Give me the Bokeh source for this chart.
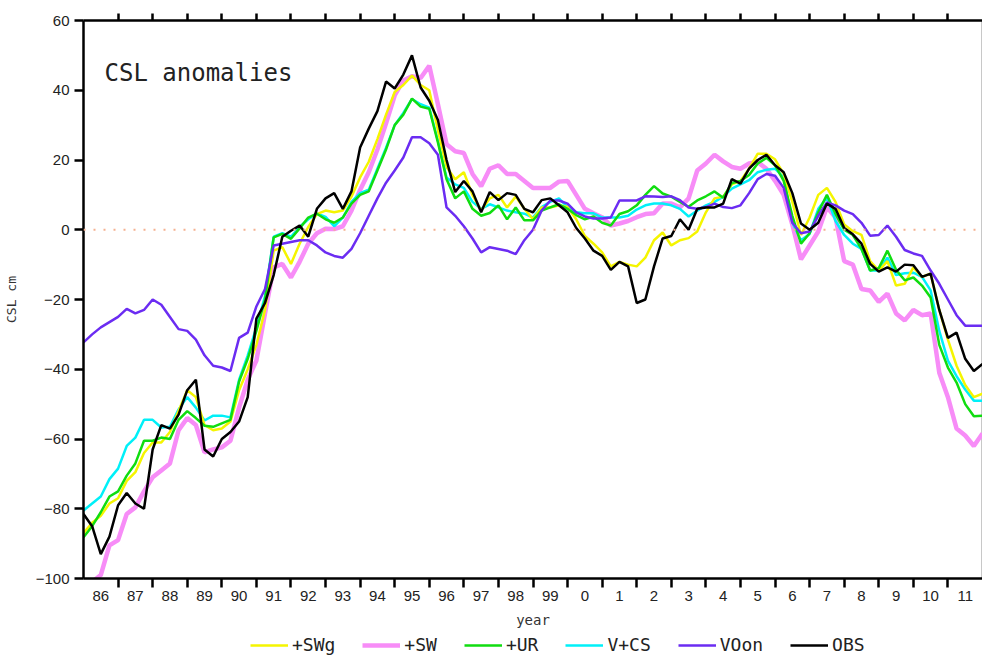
from bokeh.plotting import figure
from bokeh.layouts import column
from bokeh.models import (LinearAxis, FixedTicker, Range1d, Span, Label, Legend,
                          LegendItem, ColumnDataSource)
from bokeh.embed import file_html
from bokeh.resources import INLINE

# quarterly time axis 1986.0 .. 2012.0
years = [1986 + 0.25 * i for i in range(105)]

swg = [-87, -84, -82, -78.5,  -77, -72, -69.5, -64,  -61, -61, -58, -52,
       -46, -48, -56, -57.5,  -57, -55, -46, -40,  -33, -23, -6, -5,
       -9.8, -4, 0.8, 4.5,  5.5, 5, 5.5, 9.5,  15, 19.5, 26, 33,
       39.5, 41.5, 44.2, 41.5,  40, 28.5, 18, 14.5,  16.5, 10, 5.5, 9,
       10, 6.4, 9.5, 6,  3, 6.4, 6.4, 7,  6.5, 3, -1.8, -4,
       -6.5, -10.5, -9.2, -10,  -10.5, -8, -3, -0.8,  -4.5, -3, -2.4, -0.5,
       5, 9, 9.5, 13,  14, 17.5, 21.8, 21.8,  20.2, 16, 8, -1.5,
       3.5, 10, 12, 8,  1.5, -0.4, -1.5, -9,  -11.7, -9, -16, -15.5,
       -10.8, -13.5, -12.6, -23,  -31.5, -39, -44.5, -48,  -47]

sw = [-105, -101, -99, -90.5,  -89, -81.5, -79.6, -75,  -71, -69, -67, -57.5,
      -54, -56, -63.8, -63,  -62.4, -60.5, -51, -43,  -37.5, -24, -10.8, -9.8,
      -13.7, -9.2, -4, -1,  0.3, 0.2, 1, 5.5,  11.4, 16.5, 23, 30.5,
      38.5, 42.8, 44, 43.5,  47, 36, 24.5, 22.5,  22, 16, 12.5, 17.5,
      18.5, 16, 16, 14,  12, 12, 12, 13.8,  14, 10, 6, 4.7,
      3.6, 1.2, 1.8, 2.5,  3.6, 4.5, 4.7, 7.5,  7.5, 6.4, 9, 17,
      19, 21.5, 19.6, 18,  17.5, 19, 19.4, 17.5,  14, 10, 1.5, -8.5,
      -4.5, -0.5, 6.5, 3.5,  -9, -10, -17, -17.4,  -20.7, -18.3, -24, -26,
      -23, -24.5, -24, -41,  -48, -57, -59, -62,  -58.4]

ur = [-88.2, -85, -81, -76.5,  -75, -70.5, -67, -60.5,  -60.5, -59.6, -60, -54.5,
      -52, -54, -56.2, -56.5,  -55.5, -54.5, -43.5, -37,  -29, -20, -2.2, -1.2,
      -2.6, 0.4, 3.5, 4.6,  3, 2, 3.5, 7.5,  10, 11, 17, 23,
      30, 33, 37.6, 35.3,  34.7, 25, 14.5, 9,  11, 6, 4, 4.8,
      7, 3, 6.4, 2.7,  2.7, 5.5, 6.4, 7.3,  6, 4.2, 3, 3.8,
      2, 1.2, 4.5, 5.3,  7, 10, 12.5, 10.4,  9.5, 8, 6.6, 8.4,
      9.6, 11, 9.2, 13.4,  14, 15.7, 19, 20.6,  18.5, 14, 4, -4,
      -1, 5, 10, 4.5,  0, -1.5, -5.5, -11.7,  -11, -6, -11.5, -14.5,
      -13.7, -16, -19.4, -33,  -39.5, -43.8, -50, -53.5,  -53.3]

vcs = [-80.5, -78.5, -76.5, -71.5,  -68.5, -62, -59.6, -54.5,  -54.5, -56.7, -56.5, -51.5,
       -48, -51, -54.7, -53.3,  -53.3, -53.8, -43, -36,  -28, -19, -2, -1,
       -2, 0.8, 3, 4.7,  3.7, 1, 3.5, 8,  10.5, 11.5, 17.5, 23.5,
       30, 33.5, 37.5, 36,  35, 25.5, 15, 13,  12, 8, 6, 7.3,
       6.4, 5.5, 5, 4.6,  3.5, 6.5, 8, 9,  6.5, 5, 4.7, 4.7,
       3.5, 3.5, 3.5, 4,  5.8, 7, 7.5, 7.5,  7, 6, 3.8, 5.5,
       7, 8, 9.5, 11.8,  13, 14.2, 16.5, 17.2,  17.5, 15, 2, -3,
       -1.2, 6, 9.2, 2.5,  -1.5, -4, -5.5, -11.7,  -11.7, -8, -13, -12.5,
       -12.3, -13.5, -17.4, -29,  -37.5, -42, -45.8, -49,  -49]

voon = [-32.3, -30, -28, -26.5,  -25, -22.7, -24, -23,  -20, -21.5, -25, -28.5,
        -29, -31.5, -36, -39,  -39.5, -40.5, -31, -29.5,  -22, -17, -4.5, -4,
        -3.5, -3, -3, -4.5,  -6.5, -7.5, -8, -5.5,  -1, 4, 9, 13.5,
        17, 20.7, 26.5, 26.5,  24.8, 21.5, 6.4, 4,  1, -2.5, -6.5, -5,
        -5.5, -6, -7, -3,  0, 5.5, 8.4, 8.4,  7.5, 5, 3.8, 3.2,
        3.2, 3.5, 8.4, 8.4,  8.4, 9.6, 9.5, 9.4,  9.6, 8.5, 6.4, 6,
        6.5, 7.5, 6.5, 6.2,  7, 10.5, 14.5, 16,  15.5, 12, 2, -1,
        -0.5, 4, 7.8, 7,  5.5, 4.5, 2, -1.7,  -1.5, 1.2, -2, -5.8,
        -6.8, -7.5, -11.7, -15.5,  -20, -24.5, -27.5, -27.5,  -27.5]

obs = [-81.5, -85, -93, -88,  -79, -75.5, -78.5, -80,  -63, -56, -57, -53,
       -46, -43, -63, -65,  -60, -58, -55, -48,  -25.5, -21, -13, -2,
       -0.3, 1.2, -2, 6,  9, 10.5, 6, 11,  23.6, 29, 34, 42.5,
       40.5, 44.5, 50, 40.8,  37, 31.5, 20, 10.8,  14, 11, 5, 10.8,
       8.5, 10.5, 10, 6,  5, 8.5, 9, 7,  5, 0.5, -2.5, -6,
       -7.5, -11.5, -9.2, -10.5,  -21, -20, -10.5, -2.5,  -1.8, 3, 0, 6,
       6.4, 6.4, 7.5, 14.5,  13.2, 17.5, 20, 21.5,  18.5, 16.5, 10.5, 1.8,
       0, 2, 7.5, 6,  0.5, -1.3, -4, -9.8,  -12, -10.8, -12, -10,
       -10.2, -13.5, -12.6, -23,  -31, -29.5, -37, -40.5,  -38.5]

series_names = ["+SWg", "+SW", "+UR", "V+CS", "VOon", "OBS"]
year_labels = ["86", "87", "88", "89", "90", "91", "92", "93", "94", "95", "96", "97",
               "98", "99", "0", "1", "2", "3", "4", "5", "6", "7", "8", "9", "10", "11"]
y_ticks = [-100, -80, -60, -40, -20, 0, 20, 40, 60]

cols = ["swg", "sw", "ur", "vcs", "voon", "obs"]
colors = {"swg": "#f5f500", "sw": "#f78cf7", "ur": "#10dd10", "vcs": "#00f0f8",
          "voon": "#6b2cf2", "obs": "black"}
widths = {"swg": 2.5, "sw": 4.5, "ur": 2.5, "vcs": 2.5, "voon": 2.5, "obs": 2.5}
draw_order = ["sw", "vcs", "swg", "ur", "voon", "obs"]

src = ColumnDataSource(dict(x=years, swg=swg, sw=sw, ur=ur, vcs=vcs, voon=voon, obs=obs))

p = figure(width=982, height=633, x_range=Range1d(1986, 2012), y_range=Range1d(-100, 60),
           output_backend="svg", toolbar_location=None,
           min_border_left=83, min_border_right=0, min_border_top=20, min_border_bottom=55,
           x_axis_location=None, y_axis_location=None)
p.grid.grid_line_color = None
p.xgrid.visible = False
p.ygrid.visible = False
p.outline_line_color = "#c8c8c8"
p.outline_line_width = 1
p.background_fill_color = "white"
p.border_fill_color = "white"

mid = [1986.5 + i for i in range(len(year_labels))]
bounds = [1987 + i for i in range(len(year_labels) - 1)]

xb = LinearAxis(ticker=FixedTicker(ticks=mid, minor_ticks=bounds),
                major_label_overrides={m: l for m, l in zip(mid, year_labels)},
                major_tick_out=0, major_tick_in=0,
                minor_tick_out=9, minor_tick_in=0, minor_tick_line_width=2.5,
                minor_tick_line_color="black",
                axis_line_width=2.5, axis_line_color="black",
                major_label_standoff=3, major_label_text_font="Liberation Sans",
                major_label_text_font_size="15px", major_label_text_color="#222222",
                axis_label="year", axis_label_standoff=8,
                axis_label_text_font="DejaVu Sans Mono", axis_label_text_font_size="14px",
                axis_label_text_font_style="normal", axis_label_text_color="#333333")
p.add_layout(xb, "below")

xt = LinearAxis(ticker=FixedTicker(ticks=bounds),
                major_label_overrides={b: "" for b in bounds},
                major_tick_out=7, major_tick_in=0, major_tick_line_width=2.5,
                major_label_text_font_size="1px", major_label_text_alpha=0,
                major_label_standoff=0, minor_tick_out=0, minor_tick_in=0,
                axis_line_width=2.5, axis_line_color="black")
p.add_layout(xt, "above")

yl = LinearAxis(ticker=FixedTicker(ticks=y_ticks),
                major_label_overrides={t: (str(t).replace("-", "\u2212")) for t in y_ticks},
                major_tick_out=9, major_tick_in=0, major_tick_line_width=2.5,
                minor_tick_out=0, minor_tick_in=0,
                axis_line_width=2.5, axis_line_color="black",
                major_label_standoff=5, major_label_text_font="Liberation Sans",
                major_label_text_font_size="15px", major_label_text_color="#222222",
                axis_label="CSL cm", axis_label_standoff=14,
                axis_label_text_font="DejaVu Sans Mono", axis_label_text_font_size="13px",
                axis_label_text_font_style="normal", axis_label_text_color="#333333")
p.add_layout(yl, "left")

p.add_layout(Span(location=0, dimension="width", line_color="#f5b08f",
                  line_width=2, line_dash="2 8"))

for c in draw_order:
    p.line("x", c, source=src, line_color=colors[c], line_width=widths[c])

p.add_layout(Label(x=21, y=506, x_units="screen", y_units="screen", text="CSL anomalies",
                   text_font="DejaVu Sans Mono", text_font_size="24px",
                   text_baseline="middle", text_color="#222222"))

# legend strip under the chart (same series, lines hidden; only the key is shown)
lf = figure(width=982, height=22, x_range=Range1d(1986, 2012), y_range=Range1d(-100, 60),
            output_backend="svg", toolbar_location=None,
            min_border_left=0, min_border_right=0, min_border_top=0, min_border_bottom=0,
            x_axis_location=None, y_axis_location=None)
lf.grid.grid_line_color = None
lf.outline_line_color = None
lf.background_fill_color = "white"
lf.border_fill_color = "white"
keys = {}
for c in cols:
    keys[c] = lf.line("x", c, source=src, line_color=colors[c], line_width=widths[c],
                      visible=False)

legend = Legend(items=[LegendItem(label=n, renderers=[keys[c]]) for n, c in zip(series_names, cols)],
                orientation="horizontal", location=(167, 0),
                border_line_color=None, background_fill_alpha=0,
                inactive_fill_alpha=0,
                padding=0, margin=0, spacing=27, glyph_width=38, glyph_height=18,
                label_standoff=4, label_height=18,
                label_text_font="DejaVu Sans Mono", label_text_font_size="18px",
                label_text_color="#222222")
lf.add_layout(legend, "center")

layout = column(p, lf, spacing=0)
open("out.html", "w").write(file_html(layout, INLINE))
